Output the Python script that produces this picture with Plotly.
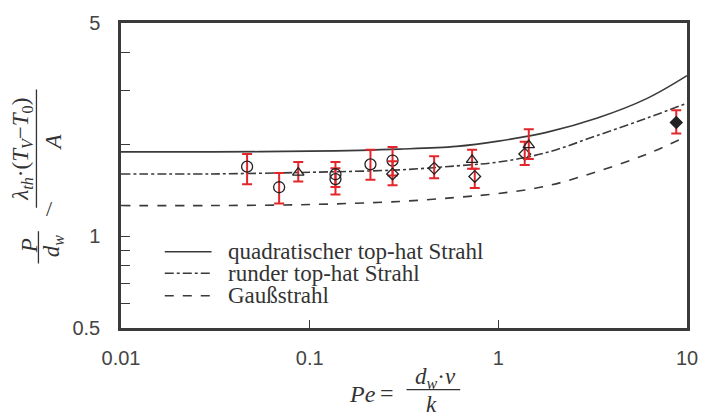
import plotly.graph_objects as go

# ---- model curves ----
pe_curve = [0.01, 0.03, 0.1, 0.3, 0.6, 1.0, 1.8, 3.35, 6.15, 10.0]
quad_tophat = [1.89, 1.89, 1.90, 1.93, 1.97, 2.05, 2.19, 2.44, 2.83, 3.36]
rund_tophat = [1.60, 1.60, 1.62, 1.65, 1.70, 1.75, 1.88, 2.14, 2.44, 2.73]
gauss = [1.26, 1.26, 1.27, 1.30, 1.34, 1.38, 1.46, 1.63, 1.86, 2.13]

# ---- measurements ----
circ_x = [0.0466, 0.0689, 0.137, 0.137, 0.21, 0.275]
circ_y = [1.69, 1.447, 1.596, 1.539, 1.72, 1.77]
circ_hi = [1.86, 1.61, 1.75, 1.67, 1.92, 1.96]
circ_lo = [1.48, 1.28, 1.45, 1.37, 1.53, 1.58]

diam_x = [0.275, 0.457, 0.75, 1.38]
diam_y = [1.60, 1.67, 1.57, 1.86]
diam_hi = [1.76, 1.83, 1.665, 2.04]
diam_lo = [1.47, 1.55, 1.44, 1.71]

tri_x = [0.087, 0.726, 1.45]
tri_y = [1.617, 1.78, 1.99]
tri_hi = [1.75, 1.92, 2.24]
tri_lo = [1.51, 1.665, 1.79]

fill_x = [8.77]
fill_y = [2.36]
fill_hi = [2.59]
fill_lo = [2.17]

legend_names = ["quadratischer top-hat Strahl", "runder top-hat Strahl", "Gaußstrahl"]
legend_dashes = ["solid", "dashdot", "dash"]

x_tickvals = [0.01, 0.1, 1, 10]
x_ticktext = ["0.01", "0.1", "1", "10"]
y_tickvals = [0.5, 0.6, 0.7, 0.8, 0.9, 1, 2, 3, 4, 5]
y_ticktext = ["0.5", "", "", "", "", "1", "", "", "", "5"]

LINE = "#3a3a3a"
RED = "#e3262b"
SERIF = "Liberation Serif, Times New Roman, serif"
SANS = "Liberation Sans, Arial, sans-serif"

fig = go.Figure()
for ys, nm, dsh in zip([quad_tophat, rund_tophat, gauss], legend_names, legend_dashes):
    fig.add_trace(go.Scatter(x=pe_curve, y=ys, mode="lines", name=nm, showlegend=False,
                             line=dict(color=LINE, width=1.6, dash=dsh, shape="spline")))


def add_pts(xs, ys, hi, lo, symbol, size):
    fig.add_trace(go.Scatter(
        x=xs, y=ys, mode="markers", showlegend=False,
        marker=dict(symbol=symbol, size=size, color="#222",
                    line=dict(color="#222", width=1.3)),
        error_y=dict(type="data", symmetric=False,
                     array=[h - y for h, y in zip(hi, ys)],
                     arrayminus=[y - l for l, y in zip(lo, ys)],
                     color=RED, thickness=2, width=5)))


add_pts(circ_x, circ_y, circ_hi, circ_lo, "circle-open", 11)
add_pts(diam_x, diam_y, diam_hi, diam_lo, "diamond-open", 9)
add_pts(tri_x, tri_y, tri_hi, tri_lo, "triangle-up-open", 10)
add_pts(fill_x, fill_y, fill_hi, fill_lo, "diamond", 9)

# plot area in pixels
L, R, T, B = 121, 690, 16, 328
W, H = 710, 416


def px(x):
    return (x - L) / (R - L)


def py(y):
    return (B - y) / (B - T)


ann = []


def txt(x, y, s, size=23, angle=0, anchor="center"):
    ann.append(dict(x=px(x), y=py(y), xref="paper", yref="paper", text=s, showarrow=False,
                    xanchor=anchor, yanchor="middle", textangle=angle,
                    font=dict(family=SERIF, size=size, color="#333")))


# y-axis title (rotated fractions)
txt(29, 244, "<i>P</i>", angle=-90)
txt(53, 244, "<i>d<sub>w</sub></i>", angle=-90)
txt(49, 206, "/", size=22, angle=0)
txt(22, 145, "<i>λ<sub>th</sub></i>·(<i>T<sub>V</sub></i>−<i>T</i><sub>0</sub>)", angle=-90)
txt(53, 138, "<i>A</i>", angle=-90)

# x-axis title
txt(364, 396, "<i>Pe</i>", size=24)
txt(388, 395, "=", size=24)
txt(437, 379, "<i>d<sub>w</sub></i>·<i>v</i>", size=23)
txt(433, 406, "<i>k</i>", size=23)

shapes = [
    dict(type="line", xref="paper", yref="paper", x0=px(38), x1=px(38), y0=py(229), y1=py(262),
         line=dict(color="#333", width=1.3)),
    dict(type="line", xref="paper", yref="paper", x0=px(36), x1=px(36), y0=py(84), y1=py(205),
         line=dict(color="#333", width=1.3)),
    dict(type="line", xref="paper", yref="paper", x0=px(408), x1=px(462), y0=py(391), y1=py(391),
         line=dict(color="#333", width=1.3)),
]

# legend drawn manually (sample line + label)
leg_rows = [250, 272, 295]
for yy, nm, dsh in zip(leg_rows, legend_names, legend_dashes):
    shapes.append(dict(type="line", xref="paper", yref="paper", x0=px(165), x1=px(212),
                       y0=py(yy), y1=py(yy), line=dict(color=LINE, width=1.5, dash=dsh)))
    txt(227, yy, nm, size=23, anchor="left")

fig.update_layout(
    width=W, height=H,
    margin=dict(l=L, r=W - R, t=T, b=H - B),
    paper_bgcolor="white", plot_bgcolor="white",
    annotations=ann, shapes=shapes, showlegend=False,
    xaxis=dict(type="log", range=[-2, 1], tickvals=x_tickvals, ticktext=x_ticktext,
               ticks="inside", ticklen=8, tickcolor=LINE, tickwidth=1.2,
               showline=True, linecolor=LINE, linewidth=2.5, mirror=True,
               showgrid=False, zeroline=False, ticklabelstandoff=10,
               tickfont=dict(family=SANS, size=20, color="#444")),
    yaxis=dict(type="log", range=[-0.30103, 0.69897], tickvals=y_tickvals,
               ticktext=y_ticktext,
               ticks="inside", ticklen=9, tickcolor=LINE, tickwidth=1.2,
               showline=True, linecolor=LINE, linewidth=2.5, mirror=True,
               showgrid=False, zeroline=False, ticklabelstandoff=14,
               tickfont=dict(family=SANS, size=20, color="#444")),
)

fig.write_html("out.html", config={"displayModeBar": False},
               post_script="document.body.style.margin='0px';")
